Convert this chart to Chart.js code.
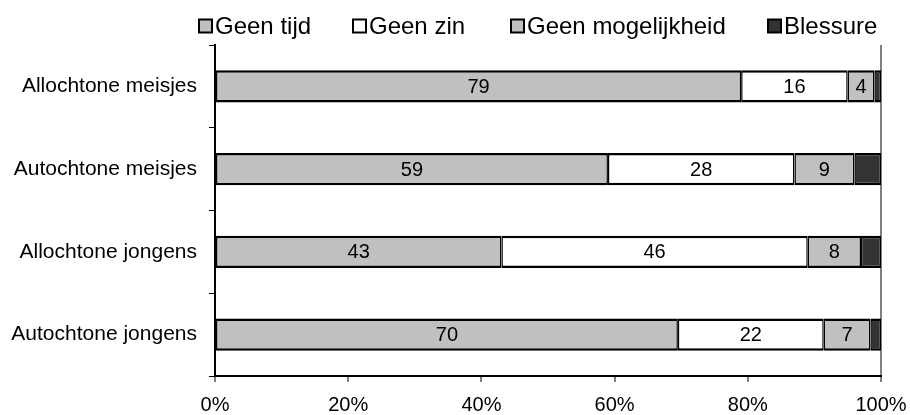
<!DOCTYPE html>
<html>
<head>
<meta charset="utf-8">
<script src="https://cdn.jsdelivr.net/npm/chart.js@4.4.1/dist/chart.umd.min.js"></script>
<style>
  html, body { margin: 0; padding: 0; background: #fff; }
  #wrap { width: 910px; height: 415px; }
</style>
</head>
<body>
<div id="wrap"><canvas id="c" width="910" height="415"></canvas></div>
<script>
const categories = ['Allochtone meisjes', 'Autochtone meisjes', 'Allochtone jongens', 'Autochtone jongens'];
const seriesNames = ['Geen tijd', 'Geen zin', 'Geen mogelijkheid', 'Blessure'];
const geenTijd = [79, 59, 43, 69.5];
const geenZin = [16, 28, 46, 21.9];
const geenMogelijkheid = [4, 9, 8, 7];
const blessure = [1, 4, 3, 1.6];
const xTicks = [0, 20, 40, 60, 80, 100];

const FONT = '"Liberation Sans", Arial, sans-serif';
const colors = ['#C0C0C0', '#FFFFFF', '#C0C0C0', '#333333'];
const showLabels = [true, true, true, false];

const border = { top: 2.5, bottom: 2.5, left: 1.5, right: 1.5 };
const datasets = [geenTijd, geenZin, geenMogelijkheid, blessure].map((d, i) => ({
  label: seriesNames[i],
  data: d,
  backgroundColor: colors[i],
  borderColor: '#000',
  borderWidth: border,
  borderSkipped: false,
  barPercentage: 0.39,
  categoryPercentage: 1.0
}));

const valueLabels = {
  id: 'valueLabels',
  afterDatasetsDraw(chart) {
    const ctx = chart.ctx;
    ctx.save();
    ctx.font = '20px ' + FONT;
    ctx.fillStyle = '#000';
    ctx.textAlign = 'center';
    ctx.textBaseline = 'middle';
    chart.data.datasets.forEach((ds, i) => {
      if (!showLabels[i]) return;
      chart.getDatasetMeta(i).data.forEach((bar, j) => {
        const cx = (bar.x + bar.base) / 2;
        ctx.fillText(String(Math.round(ds.data[j])), cx, bar.y + 1);
      });
    });
    ctx.restore();
  }
};

const customLegend = {
  id: 'customLegend',
  afterDraw(chart) {
    const ctx = chart.ctx;
    ctx.save();
    ctx.font = '24px ' + FONT;
    ctx.textBaseline = 'middle';
    ctx.textAlign = 'left';
    const box = 13;
    const boxX = [199, 353, 511, 768];
    const yMid = 26;
    seriesNames.forEach((n, i) => {
      const x = boxX[i];
      ctx.fillStyle = colors[i];
      ctx.fillRect(x, yMid - box / 2, box, box);
      ctx.strokeStyle = '#000';
      ctx.lineWidth = 2;
      ctx.strokeRect(x, yMid - box / 2, box, box);
      ctx.fillStyle = '#000';
      ctx.fillText(n, x + box + 3, yMid + 1);
    });
    ctx.restore();
  }
};

new Chart(document.getElementById('c'), {
  type: 'bar',
  data: { labels: categories, datasets },
  options: {
    indexAxis: 'y',
    responsive: false,
    animation: false,
    devicePixelRatio: 1,
    layout: { padding: { top: 45, right: 0, bottom: 0, left: 0 } },
    plugins: {
      legend: { display: false },
      tooltip: { enabled: false }
    },
    scales: {
      x: {
        stacked: true,
        min: 0,
        max: 100,
        afterBuildTicks(scale) { scale.ticks = xTicks.map(v => ({ value: v })); },
        afterFit(scale) { scale.height = 39; scale.paddingRight = 29; },
        ticks: {
          callback: v => v + '%',
          color: '#000',
          font: { family: FONT, size: 20 },
          padding: 11,
          maxRotation: 0
        },
        grid: {
          drawOnChartArea: true,
          color: c => (c.tick && c.tick.value === 100) ? '#808080' : 'rgba(0,0,0,0)',
          lineWidth: 2,
          tickColor: '#000',
          tickLength: 6,
          tickWidth: 1
        },
        border: { display: true, color: '#000', width: 2 }
      },
      y: {
        stacked: true,
        offset: true,
        afterFit(scale) { scale.width = 215; },
        ticks: {
          color: '#000',
          font: { family: FONT, size: 21 },
          padding: 12
        },
        grid: {
          offset: true,
          drawOnChartArea: false,
          tickColor: '#000',
          tickLength: 6,
          tickWidth: 1
        },
        border: { display: true, color: '#000', width: 2 }
      }
    }
  },
  plugins: [valueLabels, customLegend]
});
</script>
</body>
</html>
